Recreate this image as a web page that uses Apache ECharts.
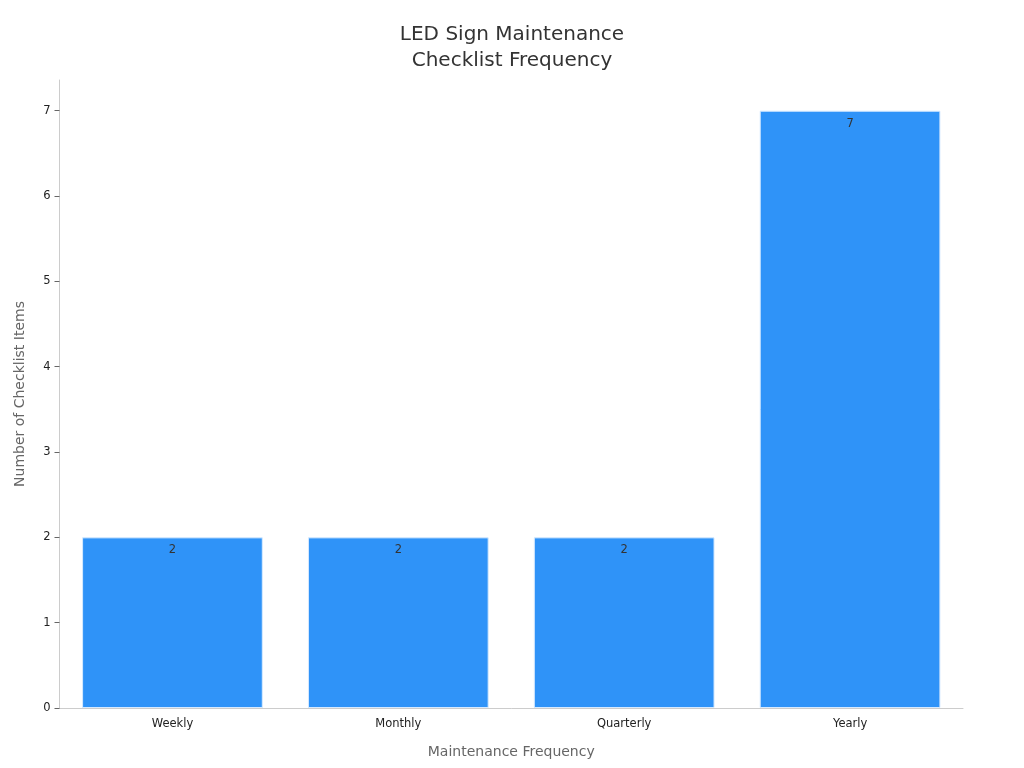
<!DOCTYPE html>
<html><head><meta charset="utf-8">
<script src="https://cdn.jsdelivr.net/npm/echarts@6/dist/echarts.min.js"></script>
<style>html,body{margin:0;padding:0;background:#fff}#c{width:1024px;height:768px}</style>
</head><body><div id="c"></div>
<script>
const categories = ['Weekly', 'Monthly', 'Quarterly', 'Yearly'];
const checklistItems = [2, 2, 2, 7];
const yTicks = [0, 1, 2, 3, 4, 5, 6, 7];

const chart = echarts.init(document.getElementById('c'));
const font = 'DejaVu Sans';
chart.setOption({
  animation: false,
  textStyle: { fontFamily: font },
  title: {
    text: 'LED Sign Maintenance\nChecklist Frequency',
    left: 'center', top: 17,
    textStyle: { fontFamily: font, fontSize: 20, fontWeight: 'normal', color: '#333', lineHeight: 26 }
  },
  grid: { left: 59.5, right: 61, top: 80, bottom: 60 },
  xAxis: {
    type: 'category', data: categories,
    name: 'Maintenance Frequency', nameLocation: 'middle', nameGap: 37,
    nameTextStyle: { fontFamily: font, fontSize: 14, color: '#666' },
    axisLine: { lineStyle: { color: '#ccc' } },
    axisTick: { alignWithLabel: true, length: 5, lineStyle: { color: '#666' } },
    axisLabel: { fontFamily: font, fontSize: 11.5, color: '#222', margin: 10 }
  },
  yAxis: {
    type: 'value', min: 0, max: 7.36, interval: 1,
    name: 'Number of Checklist Items', nameLocation: 'middle', nameGap: 32,
    nameTextStyle: { fontFamily: font, fontSize: 14, color: '#666' },
    axisLine: { show: true, lineStyle: { color: '#ccc' } },
    axisTick: { show: true, length: 5, lineStyle: { color: '#666' } },
    splitLine: { show: false },
    axisLabel: { fontFamily: font, fontSize: 11.5, color: '#222', margin: 9,
      showMaxLabel: false,
      formatter: v => yTicks.includes(v) ? String(v) : '' }
  },
  series: [{
    type: 'bar', data: checklistItems, barWidth: '80%',
    itemStyle: { color: '#2f93f8', borderColor: '#d6eaff', borderWidth: 1 },
    label: { show: true, position: 'insideTop', distance: 7, fontFamily: font, fontSize: 11.5, color: '#333' }
  }]
});
</script></body></html>
